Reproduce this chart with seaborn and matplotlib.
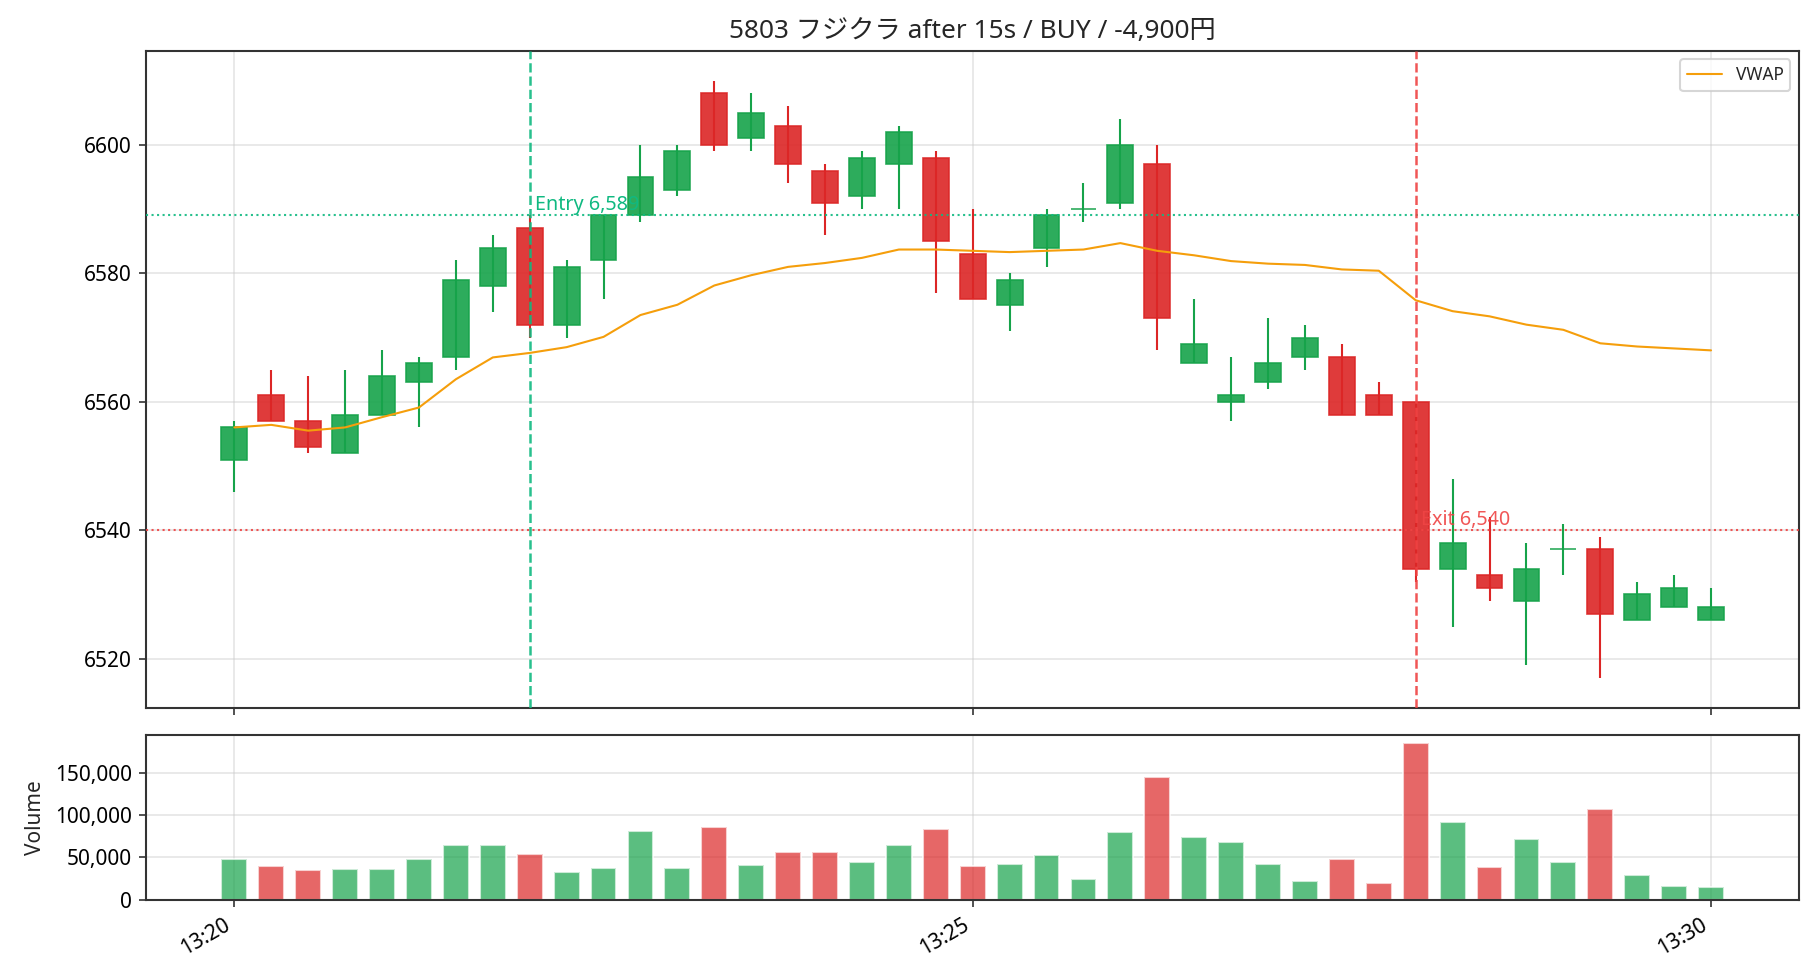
import matplotlib
matplotlib.use("Agg")
import numpy as np
import pandas as pd
import matplotlib.pyplot as plt
import seaborn as sns
from matplotlib.ticker import FixedLocator, FixedFormatter, FuncFormatter

# ---- data (15-second candles, 13:20:00 .. 13:30:00) ----
opens  = [6551, 6561, 6557, 6552, 6558, 6563, 6567, 6578, 6587, 6572,
          6582, 6589, 6593, 6608, 6601, 6603, 6596, 6592, 6597, 6598,
          6583, 6575, 6584, 6590, 6591, 6597, 6566, 6560, 6563, 6567,
          6567, 6561, 6560, 6534, 6533, 6529, 6537, 6537, 6526, 6528, 6526]
closes = [6556, 6557, 6553, 6558, 6564, 6566, 6579, 6584, 6572, 6581,
          6589, 6595, 6599, 6600, 6605, 6597, 6591, 6598, 6602, 6585,
          6576, 6579, 6589, 6590, 6600, 6573, 6569, 6561, 6566, 6570,
          6558, 6558, 6534, 6538, 6531, 6534, 6537, 6527, 6530, 6531, 6528]
highs  = [6557, 6565, 6564, 6565, 6568, 6567, 6582, 6586, 6589, 6582,
          6589, 6600, 6600, 6610, 6608, 6606, 6597, 6599, 6603, 6599,
          6590, 6580, 6590, 6594, 6604, 6600, 6576, 6567, 6573, 6572,
          6569, 6563, 6560, 6548, 6542, 6538, 6541, 6539, 6532, 6533, 6531]
lows   = [6546, 6557, 6552, 6552, 6558, 6556, 6565, 6574, 6570, 6570,
          6576, 6588, 6592, 6599, 6599, 6594, 6586, 6590, 6590, 6577,
          6576, 6571, 6581, 6588, 6590, 6568, 6566, 6557, 6562, 6565,
          6558, 6558, 6532, 6525, 6529, 6519, 6533, 6517, 6526, 6528, 6526]
vwap   = [6556.0, 6556.4, 6555.5, 6556.0, 6557.6, 6559.1, 6563.5, 6566.9, 6567.6, 6568.5,
          6570.1, 6573.5, 6575.1, 6578.1, 6579.7, 6581.0, 6581.6, 6582.4, 6583.7, 6583.7,
          6583.5, 6583.3, 6583.5, 6583.7, 6584.7, 6583.5, 6582.8, 6581.9, 6581.5, 6581.3,
          6580.6, 6580.4, 6575.8, 6574.1, 6573.3, 6572.0, 6571.2, 6569.1, 6568.6, 6568.3, 6568.0]
volumes = [48500, 40200, 35400, 36600, 36600, 48500, 65200, 65200, 54500, 33000,
           37800, 80700, 37800, 85500, 41400, 56900, 56900, 44900, 65200, 83100,
           40200, 42600, 53300, 24700, 79600, 145200, 73600, 67600, 42600, 22300,
           48500, 19900, 185800, 91500, 39000, 71200, 44900, 107000, 29400, 16300, 15100]

tick_index  = [0, 20, 40]
tick_labels = ["13:20", "13:25", "13:30"]

entry_index, entry_price = 8, 6589
exit_index, exit_price = 32, 6540
entry_label = "Entry 6,589"
exit_label = "Exit 6,540"
title = "5803 フジクラ after 15s / BUY / -4,900円"

# ---- styling ----
UP, DOWN = "#16a34a", "#dc2626"
ENTRY_C, EXIT_C = "#10b981", "#ef4444"
VWAP_C = "#f59e0b"

sns.set_theme(style="ticks")
plt.rcParams.update({
    "font.family": ["Noto Sans", "Noto Sans CJK JP", "DejaVu Sans"],
    "font.size": 10,
    "axes.titlesize": 12.6,
    "axes.labelsize": 10,
    "xtick.labelsize": 10,
    "ytick.labelsize": 10,
    "legend.fontsize": 8.3,
    "axes.edgecolor": "#333333",
    "axes.linewidth": 1.0,
    "xtick.major.size": 3.5,
    "ytick.major.size": 3.5,
    "xtick.major.width": 0.8,
    "ytick.major.width": 0.8,
    "xtick.color": "#333333",
    "ytick.color": "#333333",
    "xtick.labelcolor": "black",
    "ytick.labelcolor": "black",
    "legend.frameon": True,
})

df = pd.DataFrame({"x": np.arange(len(opens)), "open": opens, "close": closes,
                   "high": highs, "low": lows, "vwap": vwap, "volume": volumes})
df["up"] = df["close"] >= df["open"]
colors = np.where(df["up"], UP, DOWN)

fig, (ax1, ax2) = plt.subplots(2, 1, sharex=True, figsize=(1820 / 150, 980 / 150), dpi=150)
ax1.set_position([0.0804, 0.2778, 0.9081, 0.6704])
ax2.set_position([0.0804, 0.0820, 0.9081, 0.1683])

# candles
body_bottom = np.minimum(df["open"], df["close"])
body_height = (df["close"] - df["open"]).abs()
ax1.bar(df["x"], body_height, bottom=body_bottom, width=0.7, color=colors,
        edgecolor=colors, linewidth=0.8, alpha=0.9, zorder=2)
ax1.vlines(df["x"], df["low"], df["high"], colors=colors, linewidth=1.0, zorder=3)

sns.lineplot(data=df, x="x", y="vwap", ax=ax1, color=VWAP_C, linewidth=1.0,
             label="VWAP", zorder=4)

ax1.axvline(entry_index, color=ENTRY_C, ls="--", lw=1.2, alpha=0.9, zorder=5)
ax1.axhline(entry_price, color=ENTRY_C, ls=":", lw=1.0, alpha=0.9, zorder=5)
ax1.text(entry_index + 0.15, entry_price, entry_label, color=ENTRY_C,
         fontsize=9.5, va="bottom", ha="left", zorder=6)
ax1.axvline(exit_index, color=EXIT_C, ls="--", lw=1.2, alpha=0.9, zorder=5)
ax1.axhline(exit_price, color=EXIT_C, ls=":", lw=1.0, alpha=0.9, zorder=5)
ax1.text(exit_index + 0.15, exit_price, exit_label, color=EXIT_C, alpha=0.9,
         fontsize=9.5, va="bottom", ha="left", zorder=6)

ax1.set_title(title)
ax1.set_xlabel("")
ax1.set_ylabel("")
ax1.set_yticks([6520, 6540, 6560, 6580, 6600])
ax1.grid(True, color="#cccccc", alpha=0.5, lw=0.8)
ax1.legend(loc="upper right")

# volume
ax2.bar(df["x"], df["volume"], width=0.7, color=colors, alpha=0.7, zorder=2)
ax2.set_ylabel("Volume")
ax2.yaxis.set_major_formatter(FuncFormatter(lambda v, p: f"{v:,.0f}"))
ax2.set_yticks([0, 50000, 100000, 150000])
ax2.grid(True, color="#cccccc", alpha=0.5, lw=0.8)

ax2.xaxis.set_major_locator(FixedLocator(tick_index))
ax2.xaxis.set_major_formatter(FixedFormatter(tick_labels))
plt.setp(ax2.get_xticklabels(), rotation=30, ha="right")
ax1.tick_params(labelbottom=False)

fig.savefig("out.png", dpi=150)
